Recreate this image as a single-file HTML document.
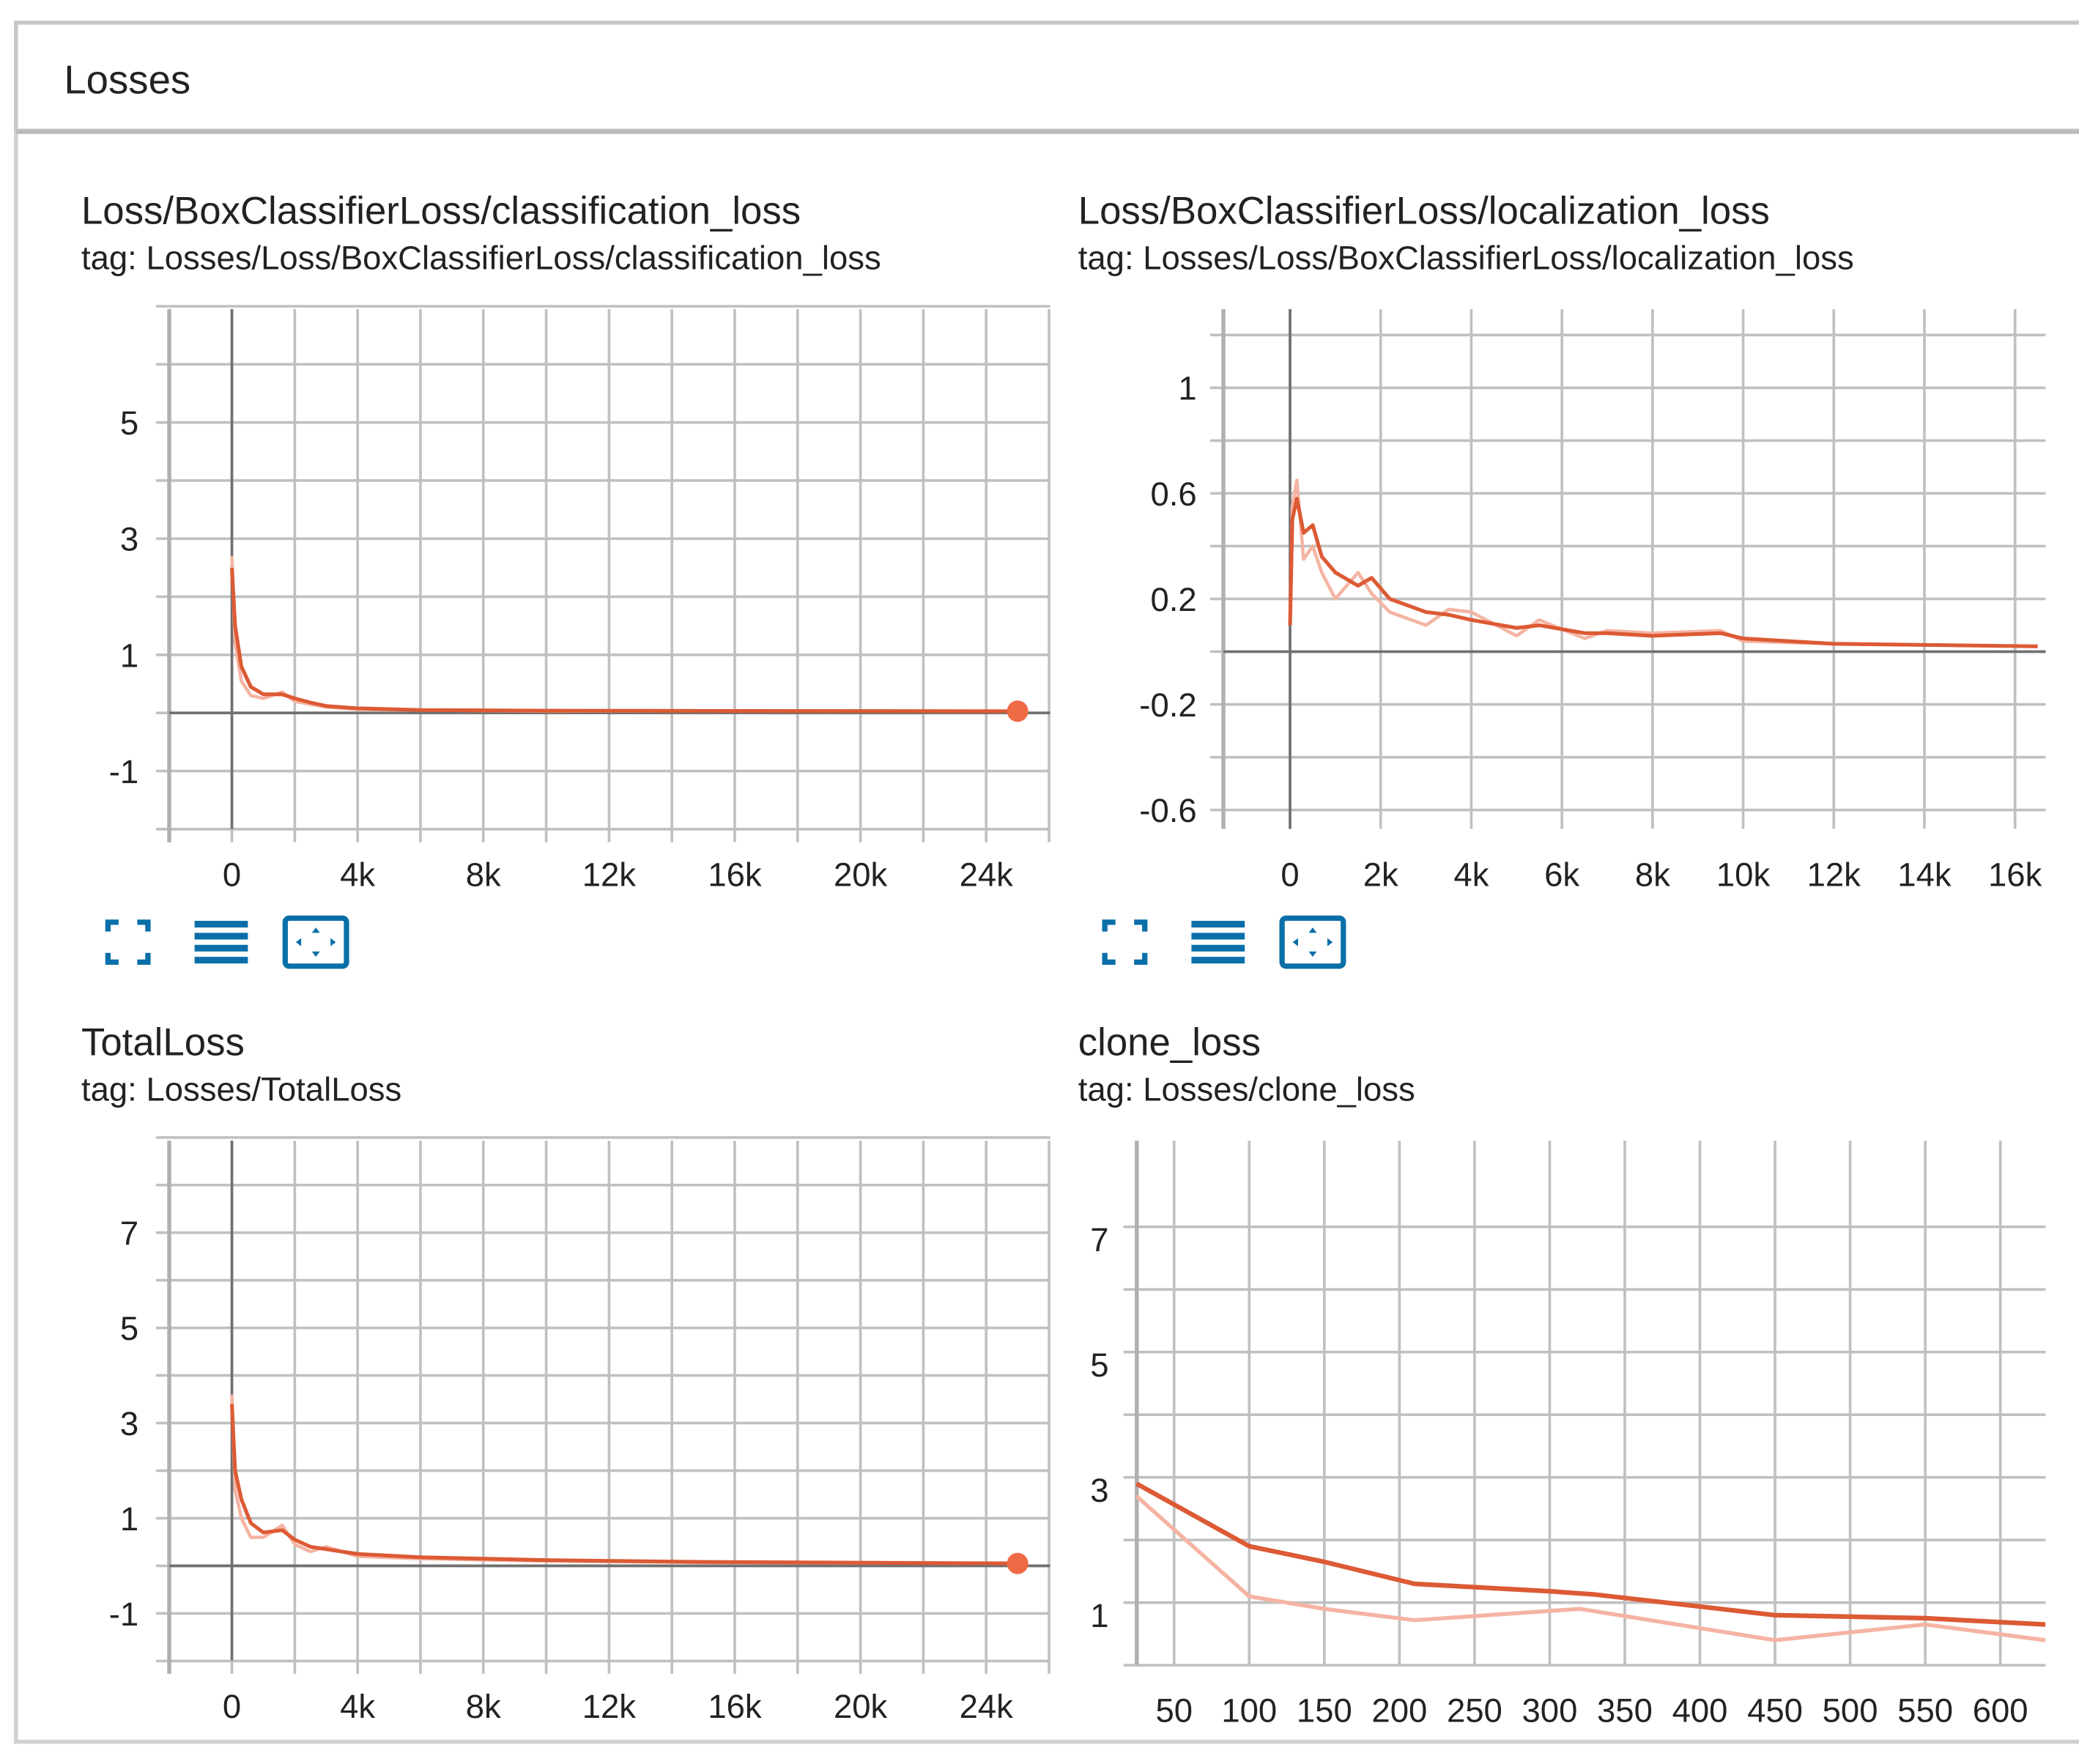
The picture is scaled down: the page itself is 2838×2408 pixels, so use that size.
<!DOCTYPE html>
<html><head><meta charset="utf-8"><style>
html,body{margin:0;padding:0;background:#fff;}
svg{display:block;}
text{font-family:"Liberation Sans",sans-serif;fill:#222;}
</style></head><body>
<svg id="s" width="2838" height="2408" viewBox="0 0 1560 1323.7" preserveAspectRatio="none" xmlns="http://www.w3.org/2000/svg">
<rect x="0" y="0" width="1560" height="1324" fill="#fff"/>
<rect x="12" y="97" width="1560" height="1210" fill="#fff" stroke="#d0d0d0" stroke-width="3"/>
<rect x="12" y="17" width="1560" height="81" fill="#fff" stroke="#c8c8c8" stroke-width="3"/>
<line x1="12" y1="99" x2="1560" y2="99" stroke="#bbb" stroke-width="3"/>
<text x="48" y="70" font-size="30">Losses</text>
<g id="charts"></g>
</svg>
<script>
// ---- chart 1: classification_loss ----
const c1Steps = [0,100,300,600,1000,1600,2000,2500,3000,4000,6000,10000,16000,25000];
const c1Smooth = [2.5,1.5,0.8,0.45,0.32,0.32,0.25,0.18,0.12,0.08,0.05,0.04,0.035,0.03];
const c1Raw = [2.7,1.2,0.55,0.3,0.25,0.36,0.2,0.15,0.1,0.06,0.05,0.03,0.04,0.03];
const c1YTicks = [5,3,1,-1];
const c1XTicks = [0,4000,8000,12000,16000,20000,24000];
const c1XLabels = ["0","4k","8k","12k","16k","20k","24k"];
// ---- chart 2: localization_loss ----
const c2Steps = [0,50,150,300,500,700,1000,1500,1800,2200,3000,3500,4000,5000,5500,6500,7000,8000,9500,10000,12000,16500];
const c2Smooth = [0.1,0.5,0.58,0.45,0.48,0.36,0.3,0.25,0.28,0.2,0.15,0.14,0.12,0.09,0.1,0.07,0.07,0.06,0.07,0.05,0.03,0.02];
const c2Raw = [0.1,0.55,0.65,0.35,0.4,0.3,0.2,0.3,0.22,0.15,0.1,0.16,0.15,0.06,0.12,0.05,0.08,0.07,0.08,0.04,0.03,0.02];
const c2YTicks = [1,0.6,0.2,-0.2,-0.6];
const c2YLabels = ["1","0.6","0.2","-0.2","-0.6"];
const c2XTicks = [0,2000,4000,6000,8000,10000,12000,14000,16000];
const c2XLabels = ["0","2k","4k","6k","8k","10k","12k","14k","16k"];
// ---- chart 3: TotalLoss ----
const c3Steps = [0,100,300,600,1000,1600,2000,2500,3000,4000,6000,10000,15000,25000];
const c3Smooth = [3.4,2.0,1.4,0.9,0.7,0.75,0.55,0.4,0.35,0.25,0.18,0.12,0.08,0.05];
const c3Raw = [3.6,1.6,1.0,0.6,0.6,0.85,0.45,0.3,0.4,0.2,0.15,0.1,0.07,0.05];
const c3YTicks = [7,5,3,1,-1];
// ---- chart 4: clone_loss ----
const c4Steps = [25,100,150,210,300,330,450,550,630];
const c4Smooth = [3.1,2.1,1.85,1.5,1.38,1.33,1.0,0.95,0.85];
const c4RawSteps = [25,100,150,210,320,450,550,630];
const c4Raw = [2.9,1.3,1.1,0.92,1.1,0.6,0.85,0.6];
const c4YTicks = [7,5,3,1];
const c4XTicks = [50,100,150,200,250,300,350,400,450,500,550,600];

const NS="http://www.w3.org/2000/svg";
const root=document.getElementById('charts');
function el(tag,attrs,parent){const e=document.createElementNS(NS,tag);for(const k in attrs)e.setAttribute(k,attrs[k]);(parent||root).appendChild(e);return e;}

function chart(o){
  const g=el('g',{});
  
  
  const sx=v=>o.px0+(v-o.x0)/(o.x1-o.x0)*(o.px1-o.px0);
  const sy=v=>o.py0+(v-o.y0)/(o.y1-o.y0)*(o.py1-o.py0);
  const t=el('text',{x:o.tx,y:o.ty,'font-size':29},g);t.textContent=o.title;
  
  
  const tg=el('text',{x:o.tx,y:o.ty+34,'font-size':25},g);tg.textContent=o.tag;
  
  
  for(let v=o.gy0; v<=o.gy1+1e-9; v+=o.gyStep){
    const y=sy(v);
    const l=el('line',{x1:o.hl,x2:o.right,y1:y,y2:y,stroke:'#c0c0c0','stroke-width':2},g);
    
    
  }
  for(let v=o.gx0; v<=o.gx1+1e-9; v+=o.gxStep){
    const x=sx(v);
    const l=el('line',{x1:x,x2:x,y1:o.top,y2:o.bottom+o.tickLen,stroke:'#c0c0c0','stroke-width':2},g);
    
    
  }
  el('line',{x1:o.axisX,x2:o.axisX,y1:o.top,y2:o.bottom+o.tickLen,stroke:'#b0b0b0','stroke-width':3},g);
  if(o.zeroAxes){
    el('line',{x1:sx(0),x2:sx(0),y1:o.top,y2:o.bottom,stroke:'#707070','stroke-width':2},g);
    el('line',{x1:o.axisX,x2:o.right,y1:sy(0),y2:sy(0),stroke:'#707070','stroke-width':2},g);
  }
  o.yTicks.forEach((v,i)=>{
    const tx=el('text',{x:o.ylx,y:sy(v)+9,'font-size':25,'text-anchor':'end'},g);
    tx.textContent=o.yLabels?o.yLabels[i]:String(v);
    
    
  });
  o.xTicks.forEach((v,i)=>{
    const tx=el('text',{x:sx(v),y:o.bottom+43,'font-size':25,'text-anchor':'middle'},g);
    tx.textContent=o.xLabels?o.xLabels[i]:String(v);
    
    
  });
  const path=(xs,ys)=>xs.map((x,i)=>(i?'L':'M')+sx(x).toFixed(1)+','+sy(ys[i]).toFixed(1)).join('');
  const raw=el('path',{d:path(o.rawSteps||o.steps,o.raw),fill:'none',stroke:'#f5b4a3','stroke-width':o.rw||2.5,'stroke-linejoin':'round'},g);
  
  
  const sm=el('path',{d:path(o.steps,o.smooth),fill:'none',stroke:'#dc5a34','stroke-width':o.sw||2.8,'stroke-linejoin':'round'},g);
  
  
  if(o.dot){
    const n=o.steps.length-1;
    const d=el('circle',{cx:sx(o.steps[n]),cy:sy(o.smooth[n]),r:8,fill:'#ee6a45'},g);
    
    
  }
  if(o.icons){ icons(g,o.icons[0],o.icons[1]); }
}

function icons(g,x,y){
  const c='#0a6fa8';
  const a=el('g',{},g);
  
  
  const p='M'+(x-15)+','+(y-8)+'V'+(y-15)+'H'+(x-7)+'M'+(x+7)+','+(y-15)+'H'+(x+15)+'V'+(y-8)+'M'+(x+15)+','+(y+8)+'V'+(y+15)+'H'+(x+7)+'M'+(x-7)+','+(y+15)+'H'+(x-15)+'V'+(y+8);
  el('path',{d:p,fill:'none',stroke:c,'stroke-width':4},a);
  const b=el('g',{},g);
  
  
  for(let i=0;i<4;i++) el('rect',{x:x+50,y:y-16+i*9,width:40,height:5,fill:c},b);
  const f=el('g',{},g);
  
  
  el('rect',{x:x+118,y:y-18,width:46,height:36,rx:3,fill:'none',stroke:c,'stroke-width':4},f);
  el('path',{d:'M'+(x+141)+','+(y-11)+'l-3,4h6z M'+(x+141)+','+(y+11)+'l-3,-4h6z M'+(x+126)+','+y+'l4,-3v6z M'+(x+156)+','+y+'l-4,-3v6z',fill:c},f);
}

chart({name:'classification-loss-chart',title:'Loss/BoxClassifierLoss/classification_loss',tag:'tag: Losses/Loss/BoxClassifierLoss/classification_loss',tx:61,ty:168,
  x0:0,x1:24000,px0:174,px1:740,y0:0,y1:5,py0:535,py1:317,top:232,bottom:622,right:788,hl:117,axisX:127,tickLen:10,ylx:104,
  gy0:-2,gy1:7,gyStep:1,gx0:-2000,gx1:26000,gxStep:2000,zeroAxes:true,
  yTicks:c1YTicks,xTicks:c1XTicks,xLabels:c1XLabels,steps:c1Steps,smooth:c1Smooth,raw:c1Raw,dot:true,icons:[96,707]});
chart({name:'localization-loss-chart',title:'Loss/BoxClassifierLoss/localization_loss',tag:'tag: Losses/Loss/BoxClassifierLoss/localization_loss',tx:809,ty:168,
  x0:0,x1:16000,px0:968,px1:1512,y0:0,y1:1,py0:489,py1:291,top:232,bottom:622,right:1535,hl:908,axisX:918,tickLen:0,ylx:898,
  gy0:-0.6,gy1:1.2,gyStep:0.2,gx0:0,gx1:16000,gxStep:2000,zeroAxes:true,
  yTicks:c2YTicks,yLabels:c2YLabels,xTicks:c2XTicks,xLabels:c2XLabels,steps:c2Steps,smooth:c2Smooth,raw:c2Raw,icons:[844,707]});
chart({name:'total-loss-chart',title:'TotalLoss',tag:'tag: Losses/TotalLoss',tx:61,ty:792,
  x0:0,x1:24000,px0:174,px1:740,y0:0,y1:7,py0:1175,py1:925,top:856,bottom:1246,right:788,hl:117,axisX:127,tickLen:10,ylx:104,
  gy0:-2,gy1:9,gyStep:1,gx0:-2000,gx1:26000,gxStep:2000,zeroAxes:true,
  yTicks:c3YTicks,xTicks:c1XTicks,xLabels:c1XLabels,steps:c3Steps,smooth:c3Smooth,raw:c3Raw,dot:true});
chart({name:'clone-loss-chart',title:'clone_loss',tag:'tag: Losses/clone_loss',tx:809,ty:792,
  x0:50,x1:600,px0:881,px1:1501,y0:1,y1:7,py0:1212,py1:930,top:856,bottom:1249,right:1535,hl:843,axisX:853,tickLen:0,ylx:832,
  gy0:0.2,gy1:8,gyStep:1,gx0:50,gx1:600,gxStep:50,zeroAxes:false,
  yTicks:c4YTicks,xTicks:c4XTicks,steps:c4Steps,smooth:c4Smooth,rawSteps:c4RawSteps,raw:c4Raw,sw:3.5,rw:3});
</script>
</body></html>
